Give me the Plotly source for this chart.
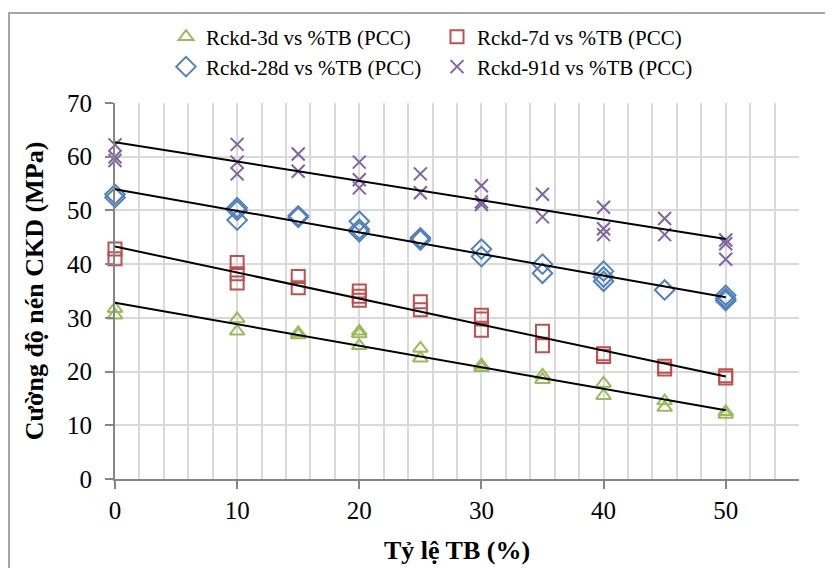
import numpy as np
import plotly.graph_objects as go

# ---- data ----
x_3d = [0, 0, 10, 10, 15, 15, 20, 20, 20, 25, 25, 30, 30, 35, 35, 40, 40, 45, 45, 50, 50]
y_3d = [31.7, 30.5, 29.8, 27.5, 27.2, 26.8, 27.5, 27.0, 24.8, 24.3, 22.5, 21.2, 20.7, 19.3, 18.5,
        17.8, 15.5, 14.5, 13.3, 12.5, 12.0]

x_7d = [0, 0, 10, 10, 10, 15, 15, 20, 20, 20, 25, 25, 30, 30, 30, 35, 35, 40, 40, 45, 45, 50, 50]
y_7d = [42.8, 41.0, 40.3, 38.2, 36.5, 37.7, 35.6, 35.0, 34.0, 33.3, 33.0, 31.5, 30.5, 29.8, 27.7,
        27.5, 24.8, 23.3, 22.8, 21.0, 20.5, 19.2, 18.8]

x_28d = [0, 0, 10, 10, 10, 15, 15, 20, 20, 20, 25, 25, 30, 30, 35, 35, 40, 40, 40, 45, 50, 50, 50]
y_28d = [53.0, 52.4, 50.5, 50.0, 48.2, 49.0, 48.7, 48.0, 46.5, 46.0, 44.9, 44.5, 42.8, 41.4, 40.0,
         38.3, 38.7, 37.6, 36.8, 35.2, 34.2, 33.6, 33.2]

x_91d = [0, 0, 0, 10, 10, 10, 15, 15, 20, 20, 20, 25, 25, 30, 30, 30, 35, 35, 40, 40, 40, 45, 45,
         50, 50, 50]
y_91d = [62.2, 60.0, 59.3, 62.3, 59.0, 56.8, 60.5, 57.3, 59.0, 55.7, 54.2, 56.8, 53.3, 54.6, 51.6,
         51.1, 53.0, 48.8, 50.6, 46.6, 45.5, 48.5, 45.5, 44.5, 43.8, 40.9]

series_names = ["Rckd-3d vs %TB (PCC)", "Rckd-7d vs %TB (PCC)",
                "Rckd-28d vs %TB (PCC)", "Rckd-91d vs %TB (PCC)"]
x_ticks = [0, 10, 20, 30, 40, 50]
y_ticks = [0, 10, 20, 30, 40, 50, 60, 70]

FONT = "Liberation Serif"

styles = [
    dict(symbol="triangle-up-open", color="#9BBB59", size=13, legend="legend"),
    dict(symbol="square-open", color="#C0504D", size=13, legend="legend"),
    dict(symbol="diamond-open", color="#4F81BD", size=15, legend="legend2"),
    dict(symbol="x-thin-open", color="#8064A2", size=13, legend="legend2"),
]

data = [(x_3d, y_3d), (x_7d, y_7d), (x_28d, y_28d), (x_91d, y_91d)]

fig = go.Figure()

for (xs, ys), name, st in zip(data, series_names, styles):
    fig.add_trace(go.Scatter(
        x=xs, y=ys, mode="markers", name=name, legend=st["legend"], cliponaxis=False,
        marker=dict(symbol=st["symbol"], size=st["size"], color=st["color"],
                    line=dict(color=st["color"], width=2)),
    ))

# linear trendlines (least squares, as in Excel)
for (xs, ys) in data:
    k, b = np.polyfit(xs, ys, 1)
    xl = np.array([min(xs), max(xs)], dtype=float)
    fig.add_trace(go.Scatter(x=xl, y=k * xl + b, mode="lines", showlegend=False,
                             line=dict(color="black", width=2), hoverinfo="skip"))

# the page body adds an 8px offset, so the figure is 8px smaller
W, H = 825, 560
L, T = 107, 95
pw, ph = 684, 376
R, B = W - L - pw, H - T - ph
bottom_px = T + ph

leg_common = dict(orientation="h", x=(166 - 8 - L) / pw, xanchor="left", yanchor="middle",
                  entrywidth=226, entrywidthmode="pixels",
                  font=dict(family=FONT, size=21, color="black"),
                  bgcolor="rgba(0,0,0,0)", itemclick=False)

fig.update_layout(
    width=W, height=H,
    margin=dict(l=L, r=R, t=T, b=B, autoexpand=False),
    paper_bgcolor="white", plot_bgcolor="white",
    font=dict(family=FONT, size=24, color="black"),
    showlegend=True,
    legend=dict(y=(bottom_px - 29) / ph, **leg_common),
    legend2=dict(y=(bottom_px - 59) / ph, **leg_common),
    xaxis=dict(
        range=[0, 56], tickvals=x_ticks, ticks="outside", ticklen=8, tickwidth=2,
        tickcolor="#868686", showline=True, linecolor="#868686", linewidth=2,
        showgrid=True, gridcolor="#D9D9D9", gridwidth=2, zeroline=False, automargin=False,
        minor=dict(dtick=2, tick0=0, showgrid=True, gridcolor="#D9D9D9", gridwidth=2),
        tickfont=dict(family=FONT, size=25, color="black"),
        title=dict(text="<b>Tỷ lệ TB (%)</b>", font=dict(family=FONT, size=26, color="black"),
                   standoff=18),
    ),
    yaxis=dict(
        range=[0, 70], tickvals=y_ticks, ticks="outside", ticklen=8, tickwidth=2,
        tickcolor="#868686", showline=True, linecolor="#868686", linewidth=2,
        showgrid=True, gridcolor="#D9D9D9", gridwidth=2, zeroline=False, automargin=False,
        ticklabelstandoff=8,
        tickfont=dict(family=FONT, size=25, color="black"),
        title=dict(text="<b>Cường độ nén CKD (MPa)</b>",
                   font=dict(family=FONT, size=26, color="black"), standoff=16),
    ),
    shapes=[dict(type="rect", xref="paper", yref="paper",
                 x0=(1 - L) / pw, x1=1.5, y0=-1.0, y1=(bottom_px - 5) / ph,
                 line=dict(color="#898989", width=1.5), layer="below")],
)

fig.write_html("out.html")
